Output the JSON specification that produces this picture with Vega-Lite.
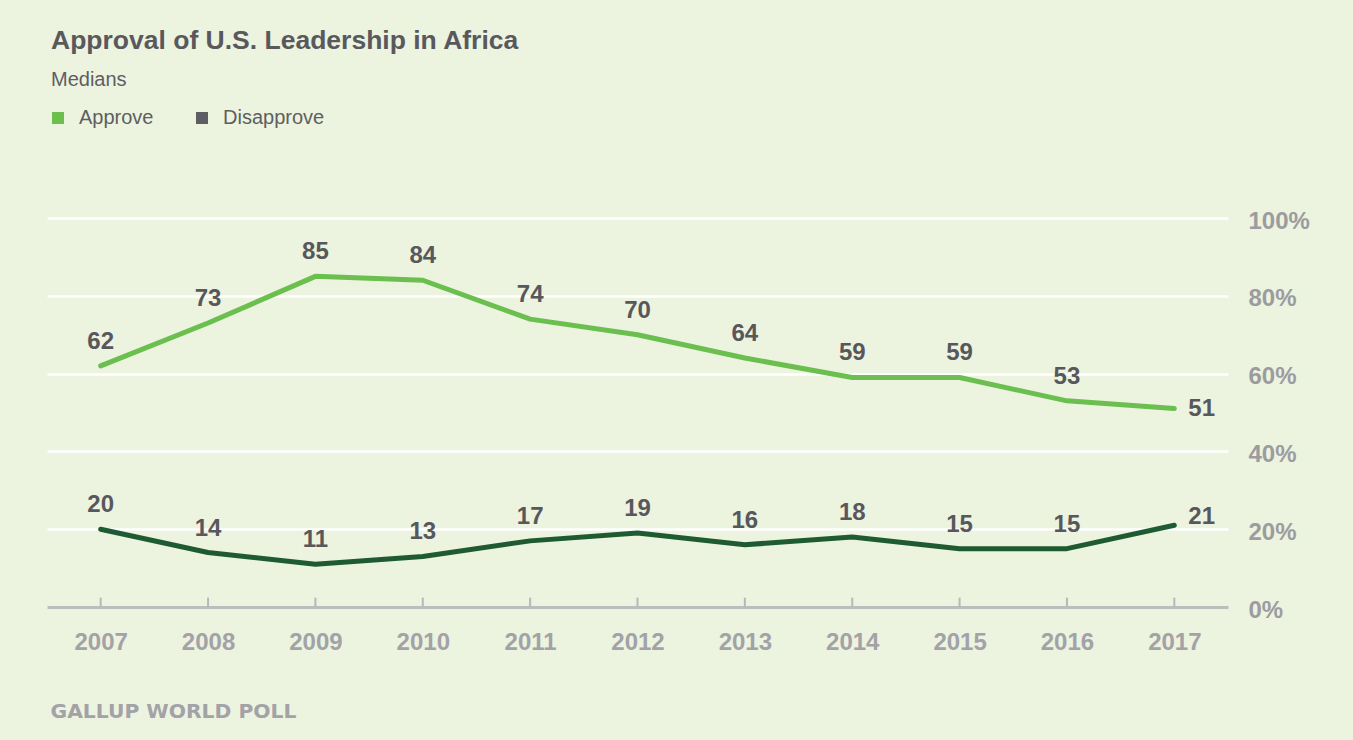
{
  "$schema": "https://vega.github.io/schema/vega-lite/v6.json",
  "width": 1181,
  "height": 389,
  "autosize": {"type": "none"},
  "padding": {"left": 47, "top": 218, "right": 125, "bottom": 133},
  "background": "#ecf3df",
  "config": {
    "font": "Liberation Sans",
    "view": {"stroke": null}
  },
  "title": {
    "text": "Approval of U.S. Leadership in Africa",
    "subtitle": "Medians",
    "anchor": "start",
    "frame": "group",
    "dx": 4,
    "offset": 18,
    "fontSize": 26.5,
    "fontWeight": "bold",
    "color": "#59595d",
    "subtitleFontSize": 20,
    "subtitleColor": "#5e5e62",
    "subtitlePadding": 16
  },
  "data": {
    "values": [
      {"year": 2007, "series": "Approve", "value": 62},
      {"year": 2008, "series": "Approve", "value": 73},
      {"year": 2009, "series": "Approve", "value": 85},
      {"year": 2010, "series": "Approve", "value": 84},
      {"year": 2011, "series": "Approve", "value": 74},
      {"year": 2012, "series": "Approve", "value": 70},
      {"year": 2013, "series": "Approve", "value": 64},
      {"year": 2014, "series": "Approve", "value": 59},
      {"year": 2015, "series": "Approve", "value": 59},
      {"year": 2016, "series": "Approve", "value": 53},
      {"year": 2017, "series": "Approve", "value": 51},
      {"year": 2007, "series": "Disapprove", "value": 20},
      {"year": 2008, "series": "Disapprove", "value": 14},
      {"year": 2009, "series": "Disapprove", "value": 11},
      {"year": 2010, "series": "Disapprove", "value": 13},
      {"year": 2011, "series": "Disapprove", "value": 17},
      {"year": 2012, "series": "Disapprove", "value": 19},
      {"year": 2013, "series": "Disapprove", "value": 16},
      {"year": 2014, "series": "Disapprove", "value": 18},
      {"year": 2015, "series": "Disapprove", "value": 15},
      {"year": 2016, "series": "Disapprove", "value": 15},
      {"year": 2017, "series": "Disapprove", "value": 21}
    ]
  },
  "encoding": {
    "x": {
      "field": "year",
      "type": "ordinal",
      "scale": {"type": "point", "padding": 0.5},
      "axis": {
        "title": "GALLUP WORLD POLL",
        "titleAnchor": "start",
        "titleAlign": "left",
        "titleBaseline": "alphabetic",
        "titleX": 3,
        "titleY": 110,
        "titleFont": "DejaVu Sans",
        "titleFontSize": 20.3,
        "titleFontWeight": "bold",
        "titleColor": "#a2a2a7",
        "labelAngle": 0,
        "labelFontSize": 24,
        "labelFontWeight": "bold",
        "labelColor": "#a2a2a7",
        "labelPadding": 23,
        "domainColor": "#bdbdbd",
        "domainWidth": 3,
        "ticks": false,
        "grid": false
      }
    },
    "y": {
      "field": "value",
      "type": "quantitative",
      "scale": {"domain": [0, 100]},
      "axis": {
        "orient": "right",
        "title": null,
        "values": [0, 20, 40, 60, 80, 100],
        "labelExpr": "datum.value + '%'",
        "labelFontSize": 24,
        "labelFontWeight": "bold",
        "labelColor": "#9c9ca0",
        "labelPadding": 20,
        "labelOffset": 3,
        "labelBaseline": "middle",
        "domain": false,
        "ticks": false,
        "gridColor": "#ffffff",
        "gridWidth": 2.5,
        "gridOpacity": 1
      }
    }
  },
  "layer": [
    {
      "transform": [{"filter": "datum.series == 'Approve'"}],
      "mark": {"type": "rule", "color": "#b8b8b8", "strokeWidth": 2},
      "encoding": {
        "y": {"datum": 0, "type": "quantitative"},
        "y2": {"datum": 2.4}
      }
    },
    {
      "mark": {"type": "line", "strokeWidth": 5, "strokeCap": "round", "strokeJoin": "round"},
      "encoding": {
        "color": {
          "field": "series",
          "type": "nominal",
          "scale": {"domain": ["Approve", "Disapprove"], "range": ["#6abf4f", "#1e5a32"]},
          "legend": {
            "title": null,
            "orient": "none",
            "legendX": 1,
            "legendY": -110,
            "direction": "horizontal",
            "symbolType": "square",
            "symbolSize": 144,
            "symbolStrokeWidth": 0,
            "labelFontSize": 20,
            "labelColor": "#5e5e62",
            "labelOffset": 11,
            "columnPadding": 38,
            "encode": {
              "symbols": {
                "update": {
                  "fill": [
                    {"test": "datum.value === 'Approve'", "value": "#6abf4f"},
                    {"value": "#5e5e62"}
                  ],
                  "stroke": {"value": "transparent"},
                  "strokeWidth": {"value": 0},
                  "opacity": {"value": 1}
                }
              }
            }
          }
        }
      }
    },
    {
      "transform": [{"filter": "datum.year != 2017"}],
      "mark": {"type": "text", "dy": -24, "fontSize": 24, "fontWeight": "bold", "color": "#58585c", "baseline": "middle"},
      "encoding": {"text": {"field": "value", "type": "quantitative"}}
    },
    {
      "transform": [{"filter": "datum.year == 2017 && datum.series == 'Approve'"}],
      "mark": {"type": "text", "dx": 14, "dy": 0, "align": "left", "fontSize": 24, "fontWeight": "bold", "color": "#58585c", "baseline": "middle"},
      "encoding": {"text": {"field": "value", "type": "quantitative"}}
    },
    {
      "transform": [{"filter": "datum.year == 2017 && datum.series == 'Disapprove'"}],
      "mark": {"type": "text", "dx": 14, "dy": -8, "align": "left", "fontSize": 24, "fontWeight": "bold", "color": "#58585c", "baseline": "middle"},
      "encoding": {"text": {"field": "value", "type": "quantitative"}}
    }
  ]
}
